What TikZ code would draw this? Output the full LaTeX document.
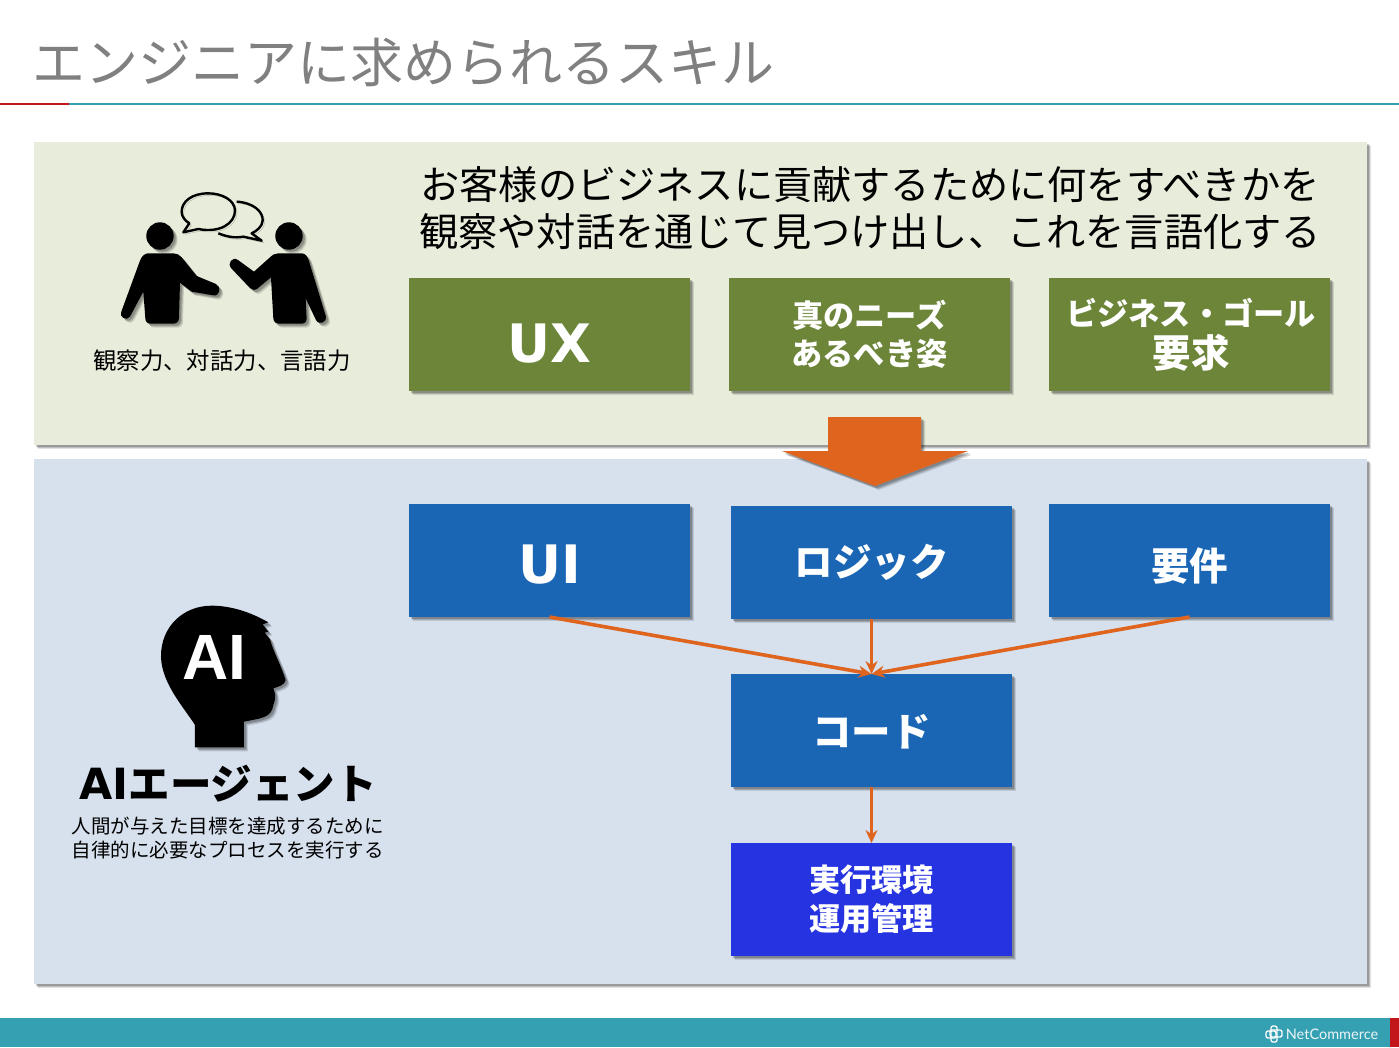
\documentclass[tikz,border=0pt]{standalone}
\usepackage{fontspec}
\setmainfont{Noto Sans CJK JP}
\newfontfamily\latinbold{DejaVu Sans}[BoldFont={DejaVu Sans Bold}]
\newfontfamily\arialfont{Liberation Sans}
\newfontfamily\logofont{Lato}
\usetikzlibrary{shadows, arrows.meta}
\newcommand{\fs}[2]{\fontsize{#1}{#2}\selectfont}
\definecolor{paneltop}{HTML}{E8ECDB}
\definecolor{panelbot}{HTML}{D7E1EE}
\definecolor{olivebox}{HTML}{6C8539}
\definecolor{bluebox}{HTML}{1A66B5}
\definecolor{brightbox}{HTML}{2533E0}
\definecolor{orangeline}{HTML}{DF641E}
\definecolor{tealbar}{HTML}{36A0B3}
\definecolor{redbar}{HTML}{C3161A}
\begin{document}
\begin{tikzpicture}[
            x = 1pt, y = -1pt,
            softshadow/.style={
                drop shadow={shadow xshift=4pt, shadow yshift=-4pt, opacity=.12, fill=black},
                drop shadow={shadow xshift=3pt, shadow yshift=-3pt, opacity=.15, fill=black},
                drop shadow={shadow xshift=2pt, shadow yshift=-2pt, opacity=.2, fill=black}},
            panel/.style={minimum width=1333pt, inner sep=0pt, outer sep=0pt, softshadow},
            box/.style={minimum width=281pt, minimum height=113pt, inner sep=0pt, outer sep=0pt, align=center, text=white, font=\bfseries, softshadow},
            greenbox/.style={box, fill=olivebox},
            blueitem/.style={box, fill=bluebox},
            line/.style={line width=3.6pt, draw=orangeline, -{Stealth[length=13pt, width=12pt]}},
            figure/.style={fill=black, softshadow},
            bubble/.style={draw=black, line width=2.4pt, line join=round,
                preaction={draw=black, opacity=.25, transform canvas={xshift=2pt, yshift=-2pt}}},
            ]
        \useasboundingbox (0, 0) rectangle (1399, 1047);

        % header and footer
        \node[text=black!50, font=\fs{53}{60}, inner sep=0pt] (title) at (403.5, 62.5) {エンジニアに求められるスキル};
        \fill[tealbar] (0, 103) rectangle (1399, 105);
        \fill[redbar] (0, 103) rectangle (69, 105);
        \fill[tealbar] (0, 1018) rectangle (1399, 1047);
        \fill[redbar] (1390, 1018) rectangle (1399, 1047);
        \draw[white, line width=1.3pt, rounded corners=2pt] (1270, 1030) rectangle (1282, 1037);
        \draw[white, line width=1.3pt, rounded corners=2pt] (1266, 1031) rectangle (1276, 1038);
        \draw[white, line width=1.3pt, rounded corners=2pt] (1271, 1026) rectangle (1277, 1042);
        \node[text=white!90!tealbar, font=\logofont\fs{14.5}{16}, inner sep=0pt] (logo) at (1332, 1034) {NetCommerce};

        % panels
        \node[panel, fill=paneltop, minimum height=303pt] (toppanel) at (700.5, 293.5) {};
        \node[panel, fill=panelbot, minimum height=525pt] (botpanel) at (700.5, 721.5) {};

        % top panel
        \node[font=\fs{39.2}{47}, align=center, inner sep=0pt] (headline) at (870, 208) {お客様のビジネスに貢献するために何をすべきかを\\観察や対話を通じて見つけ出し、これを言語化する};
        \node[greenbox, font=\latinbold\bfseries\fs{53}{60}, text height=55pt, text depth=0pt] (ux) at (549.5, 334.5) {UX};
        \node[greenbox, font=\bfseries\fs{31.2}{38}] (needs) at (869.5, 334) {真のニーズ\\あるべき姿};
        \node[greenbox, font=\bfseries\fs{31.2}{42}] (goal) at (1189.5, 334.5) {\hspace*{3pt}ビジネス・ゴール\\\hspace*{3pt}{\fs{38.5}{42}要求}};

        % speaking people
        \begin{scope}[shift={(80, 170)}, x=0.3333pt, y=-0.3333pt]
            \fill[figure] (240, 198) circle (13.7pt);
            \fill[figure] (627, 198) circle (13.7pt);
            \fill[figure] (205, 250) -- (280, 250) .. controls (290, 250) and (298, 254) .. (305, 262)
                -- (350, 318) -- (408, 342) .. controls (425, 350) and (420, 380) .. (400, 376)
                -- (335, 365) -- (300, 338) -- (297, 445) .. controls (296, 455) and (290, 461) .. (280, 461)
                -- (212, 461) .. controls (202, 461) and (196, 455) .. (196, 445)
                -- (190, 365) -- (150, 440) .. controls (140, 455) and (115, 440) .. (124, 425)
                -- (180, 272) .. controls (185, 258) and (195, 250) .. (205, 250) -- cycle;
            \fill[figure] (595, 250) -- (665, 250) .. controls (675, 250) and (682, 258) .. (686, 270)
                -- (738, 440) .. controls (742, 455) and (718, 468) .. (708, 450)
                -- (677, 385) -- (680, 445) .. controls (680, 455) and (675, 461) .. (665, 461)
                -- (597, 461) .. controls (587, 461) and (581, 455) .. (580, 445)
                -- (573, 322) -- (532, 356) .. controls (524, 362) and (516, 360) .. (510, 354)
                -- (454, 295) .. controls (440, 280) and (458, 258) .. (474, 270)
                -- (522, 305) -- (570, 262) .. controls (578, 254) and (586, 250) .. (595, 250) -- cycle;
            \draw[bubble] (355, 177) .. controls (420, 190) and (465, 160) .. (465, 122)
                .. controls (465, 90) and (425, 70) .. (385, 70)
                .. controls (335, 70) and (305, 95) .. (305, 125)
                .. controls (305, 140) and (315, 152) .. (328, 160)
                -- (310, 187) -- cycle;
            \draw[bubble] (470, 95) .. controls (520, 98) and (550, 125) .. (548, 152)
                .. controls (547, 170) and (530, 183) .. (515, 190)
                -- (545, 212) -- (490, 200) .. controls (465, 205) and (440, 200) .. (415, 190);
        \end{scope}
        \node[font=\fs{23.4}{28}, inner sep=0pt] (skills) at (222, 361) {観察力、対話力、言語力};

        % block arrow between the panels
        \fill[orangeline, softshadow]
            (828, 417) -- (921, 417) -- (921, 451) -- (968, 451) -- (875, 486) -- (782, 451) -- (828, 451) -- cycle;

        % bottom panel
        \node[blueitem, font=\latinbold\bfseries\fs{53}{60}, text height=45pt, text depth=0pt] (ui) at (549.5, 560.5) {UI};
        \node[blueitem, font=\bfseries\fs{38.5}{44}] (logic) at (871.5, 562.5) {ロジック};
        \node[blueitem, font=\bfseries\fs{38.5}{44}, text height=44pt, text depth=4.6pt] (spec) at (1189.5, 560.5) {要件};
        \node[blueitem, font=\bfseries\fs{39.5}{44}, text height=37pt, text depth=4.7pt] (code) at (871.5, 730.5) {コード};
        \node[box, fill=brightbox, font=\bfseries\fs{31.2}{39}] (runtime) at (871.5, 899.5) {実行環境\\運用管理};

        \draw[line] (ui.south) -- (code.north);
        \draw[line] (logic.south) -- (code.north);
        \draw[line] (spec.south) -- (code.north);
        \draw[line] (code.south) -- (runtime.north);

        % agent head
        \begin{scope}[shift={(60, 590)}, x=0.3333pt, y=-0.3333pt]
            \fill[figure] (405, 472) -- (405, 405) .. controls (370, 350) and (305, 280) .. (303, 200)
                .. controls (302, 110) and (370, 47) .. (455, 47)
                .. controls (510, 47) and (570, 65) .. (625, 97)
                -- (608, 103) -- (625, 125) -- (614, 128) -- (630, 148)
                .. controls (640, 185) and (665, 230) .. (677, 270)
                .. controls (675, 285) and (655, 290) .. (640, 295)
                .. controls (645, 310) and (650, 320) .. (640, 345)
                .. controls (635, 385) and (600, 385) .. (552, 395)
                -- (552, 472) -- cycle;
        \end{scope}
        \node[text=white, font=\arialfont\bfseries\fs{64}{70}, inner sep=0pt] (ailabel) at (214, 657) {AI};
        \node[font=\bfseries\fs{41.5}{46}, inner sep=0pt] (agent) at (228, 784) {{\latinbold\bfseries\fs{43}{46}AI}エージェント};
        \node[font=\fs{19.5}{24}, align=center, inner sep=0pt] (agenttext) at (227.5, 838) {人間が与えた目標を達成するために\\自律的に必要なプロセスを実行する};
    \end{tikzpicture}
\end{document}
